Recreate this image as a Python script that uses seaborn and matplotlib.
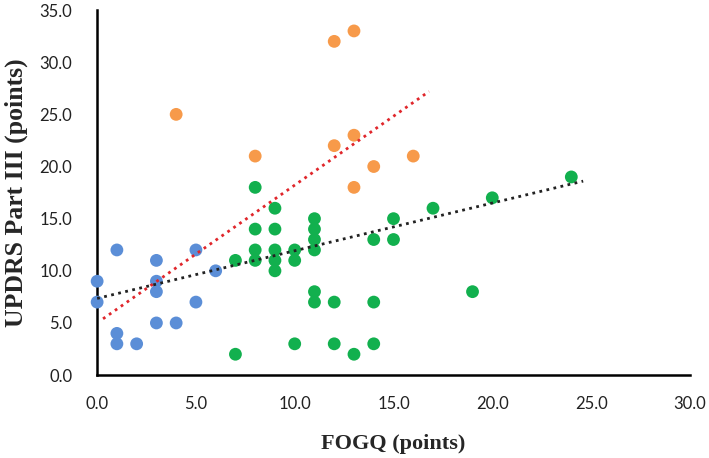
import numpy as np
import pandas as pd
import matplotlib.pyplot as plt
import seaborn as sns

# group values (FOGQ, UPDRS III)
blue_x = [0, 0, 1, 1, 1, 2, 3, 3, 3, 3, 4, 5, 5, 6]
blue_y = [9, 7, 12, 4, 3, 3, 11, 9, 8, 5, 5, 12, 7, 10]

orange_x = [4, 8, 12, 13, 12, 13, 14, 13, 16]
orange_y = [25, 21, 32, 33, 22, 23, 20, 18, 21]

green_x = [7, 7, 8, 8, 8, 8, 9, 9, 9, 9, 9, 10, 10, 10,
           11, 11, 11, 11, 11, 11, 12, 12, 13, 14, 14, 14,
           15, 15, 17, 20, 24, 19]
green_y = [11, 2, 14, 12, 11, 18, 14, 12, 11, 10, 16, 12, 11, 3,
           15, 14, 13, 12, 8, 7, 7, 3, 2, 13, 7, 3,
           13, 15, 16, 17, 19, 8]

# trendline ends
red_trend_x = [0.3, 16.8]
red_trend_y = [5.4, 27.2]
black_trend_x = [0.0, 24.6]
black_trend_y = [7.35, 18.6]

df = pd.concat([
    pd.DataFrame({'fogq': blue_x, 'updrs': blue_y, 'grp': 'blue'}),
    pd.DataFrame({'fogq': orange_x, 'updrs': orange_y, 'grp': 'orange'}),
    pd.DataFrame({'fogq': green_x, 'updrs': green_y, 'grp': 'green'}),
])
palette = {'blue': '#5B8ED7', 'orange': '#F79A4A', 'green': '#12B04E'}

sns.set_style('white')
fig = plt.figure(figsize=(7.09, 4.58), dpi=100)
ax = fig.add_axes([0.137, 0.181, 0.836, 0.797])

sns.scatterplot(data=df, x='fogq', y='updrs', hue='grp', palette=palette,
                s=85, linewidth=0, legend=False, ax=ax, zorder=3, clip_on=False)

ax.plot(black_trend_x, black_trend_y, color='#222222', linestyle=(0, (1, 1.6)),
        linewidth=2, zorder=4)
ax.plot(red_trend_x, red_trend_y, color='#E0262B', linestyle=(0, (1, 1.6)),
        linewidth=2, zorder=4)

ax.set_xlim(0, 30)
ax.set_ylim(0, 35)
ax.set_xticks(np.arange(0, 31, 5))
ax.set_yticks(np.arange(0, 36, 5))
ax.set_xticklabels([f'{v:.1f}' for v in np.arange(0, 31, 5)])
ax.set_yticklabels([f'{v:.1f}' for v in np.arange(0, 36, 5)])
ax.tick_params(axis='both', length=0, labelsize=12, labelcolor='#222222')
ax.tick_params(axis='x', pad=15)
ax.tick_params(axis='y', pad=18)
for lab in ax.get_xticklabels() + ax.get_yticklabels():
    lab.set_family('Lato')

sns.despine(ax=ax)
for sp in ['left', 'bottom']:
    ax.spines[sp].set_color('black')
    ax.spines[sp].set_linewidth(1.8)
    ax.spines[sp].set_zorder(2)

ax.set_xlabel('FOGQ (points)', family='Liberation Serif', fontweight='bold',
              fontsize=16, labelpad=16)
ax.set_ylabel('UPDRS Part III (points)', family='Liberation Serif',
              fontweight='bold', fontsize=18.5, labelpad=8)

fig.savefig('out.png', dpi=100)
